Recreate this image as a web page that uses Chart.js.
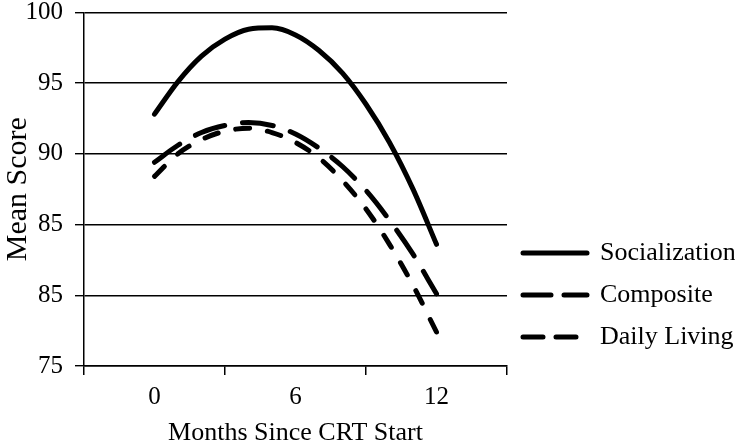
<!DOCTYPE html>
<html>
<head>
<meta charset="utf-8">
<script src="https://cdn.jsdelivr.net/npm/chart.js@4/dist/chart.umd.min.js"></script>
<style>
  html, body { margin: 0; padding: 0; background: #fff; }
  #wrap { width: 735px; height: 446px; }
</style>
</head>
<body>
<div id="wrap"><canvas id="c" width="735" height="446"></canvas></div>
<script>
// Months since CRT start
const months = [0, 1, 2, 3, 4, 5, 6, 7, 8, 9, 10, 11, 12];
// Series values
const socialization = [92.8, 95.1, 96.9, 98.1, 98.8, 98.9, 98.4, 97.3, 95.7, 93.5, 90.8, 87.5, 83.6];
const composite     = [89.4, 90.6, 91.5, 92.0, 92.2, 92.0, 91.4, 90.4, 89.1, 87.4, 85.3, 82.9, 80.1];
const dailyLiving   = [88.4, 90.0, 91.0, 91.6, 91.8, 91.5, 90.8, 89.7, 88.1, 86.1, 83.6, 80.7, 77.4];
// Axis ticks and labels (as printed in the figure)
const xTickLabels = { 0: '0', 6: '6', 12: '12' };
const xTickMarks = [-3, 3, 9, 15];
const yTickValues = [75, 80, 85, 90, 95, 100];
const yTickLabels = ['75', '85', '85', '90', '95', '100'];

const serif = 'Liberation Serif, Times New Roman, serif';
const toPts = arr => arr.map((v, i) => ({ x: months[i], y: v }));
const legendDash = [[], [28, 13], [20, 13]];
const LEGEND_WIDTH = 228;

// Let the legend take its natural width on the right instead of half the canvas limit.
const legendWidthPlugin = {
  id: 'legendWidth',
  beforeLayout(chart) {
    const lg = chart.legend;
    if (lg && !lg._widthPatched) {
      const origFit = lg.fit.bind(lg);
      lg.fit = function () {
        origFit();
        this.width = LEGEND_WIDTH;
        this.right = this.left + LEGEND_WIDTH;
      };
      lg._widthPatched = true;
    }
  }
};

new Chart(document.getElementById('c'), {
  type: 'line',
  data: {
    datasets: [
      { label: 'Socialization', data: toPts(socialization), borderColor: '#000', backgroundColor: '#000',
        borderWidth: 5, pointRadius: 0, cubicInterpolationMode: 'monotone', borderCapStyle: 'round', pointStyle: 'line' },
      { label: 'Composite', data: toPts(composite), borderColor: '#000', backgroundColor: '#000',
        borderWidth: 5, pointRadius: 0, cubicInterpolationMode: 'monotone', borderDash: [31, 18], borderCapStyle: 'round', pointStyle: 'line' },
      { label: 'Daily Living', data: toPts(dailyLiving), borderColor: '#000', backgroundColor: '#000',
        borderWidth: 5, pointRadius: 0, cubicInterpolationMode: 'monotone', borderDash: [14, 18], borderCapStyle: 'round', pointStyle: 'line' }
    ]
  },
  plugins: [legendWidthPlugin],
  options: {
    responsive: false,
    animation: false,
    devicePixelRatio: 1,
    layout: { padding: { top: 0, right: 0, bottom: 0, left: 0 } },
    plugins: {
      legend: {
        position: 'right',
        align: 'end',
        fullSize: false,
        labels: {
          usePointStyle: true,
          pointStyleWidth: 64,
          boxHeight: 26,
          padding: 16,
          color: '#000',
          font: { family: serif, size: 26 },
          generateLabels: chart => {
            const items = Chart.defaults.plugins.legend.labels.generateLabels(chart);
            items.forEach((it, i) => {
              it.lineDash = legendDash[i];
              it.lineCap = 'round';
              it.lineWidth = 5;
              it.strokeStyle = '#000';
            });
            return items;
          }
        }
      },
      tooltip: { enabled: false }
    },
    scales: {
      x: {
        type: 'linear',
        min: -3,
        max: 15,
        afterBuildTicks: s => { s.ticks = [-3, 0, 3, 6, 9, 12, 15].map(v => ({ value: v })); },
        afterFit: s => { s.height = 80; },
        ticks: {
          autoSkip: false,
          maxRotation: 0,
          color: '#000',
          padding: 7,
          font: { family: serif, size: 25 },
          callback: v => (xTickLabels[v] !== undefined ? xTickLabels[v] : '')
        },
        grid: {
          drawOnChartArea: false,
          drawTicks: true,
          tickLength: 9,
          lineWidth: 1.5,
          color: c => (c.tick && xTickMarks.includes(c.tick.value) ? '#000' : 'rgba(0,0,0,0)')
        },
        border: { display: true, color: '#000', width: 1.5 },
        title: {
          display: true,
          text: 'Months Since CRT Start',
          color: '#000',
          font: { family: serif, size: 26, lineHeight: 1 },
          padding: { top: 2, bottom: 0 }
        }
      },
      y: {
        min: 75,
        max: 100,
        afterBuildTicks: s => { s.ticks = yTickValues.map(v => ({ value: v })); },
        afterFit: s => { s.width = 84; },
        ticks: {
          color: '#000',
          padding: 12,
          font: { family: serif, size: 25, lineHeight: 0.02 },
          callback: (v, i) => yTickLabels[i]
        },
        grid: {
          color: '#000',
          lineWidth: 1.4,
          drawTicks: true,
          tickLength: 9
        },
        border: { display: true, color: '#000', width: 1.5 },
        title: {
          display: true,
          text: 'Mean Score',
          color: '#000',
          font: { family: serif, size: 30 },
          padding: { top: 0, bottom: 4 }
        }
      }
    }
  }
});
</script>
</body>
</html>
